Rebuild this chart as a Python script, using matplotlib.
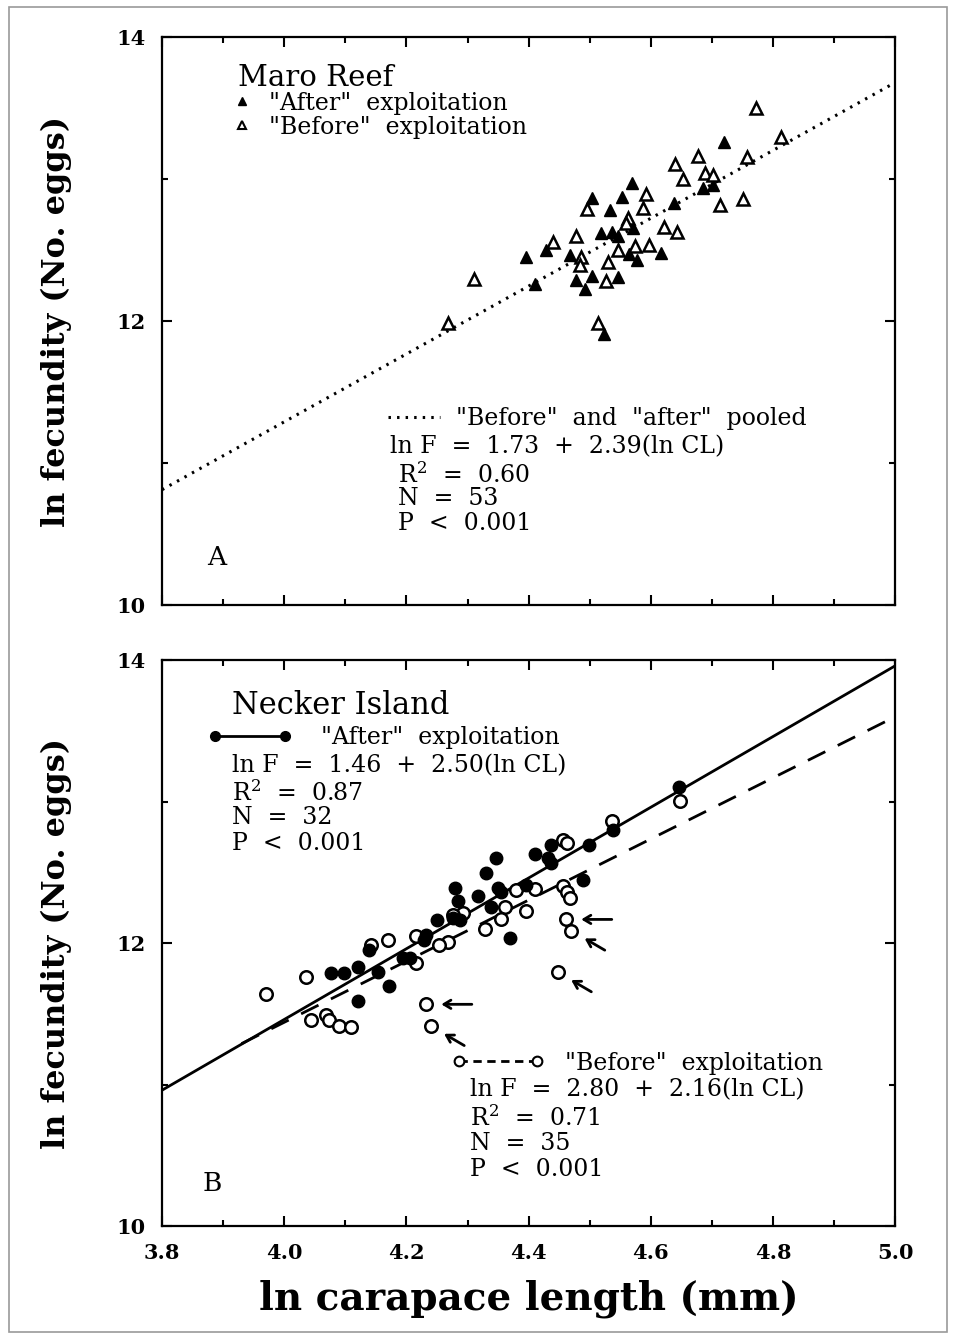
import numpy as np
import matplotlib.pyplot as plt
from matplotlib.lines import Line2D
from matplotlib.patches import Rectangle
from matplotlib.ticker import MultipleLocator

plt.rcParams['font.family'] = ['DejaVu Serif']
plt.rcParams['mathtext.fontset'] = 'dejavuserif'

# --- Panel A: Maro Reef (ln carapace length, ln fecundity)
maro_after_cl = [4.719, 4.569, 4.504, 4.552, 4.533, 4.638, 4.686, 4.702,
                 4.519, 4.536, 4.546, 4.571, 4.395, 4.429, 4.467, 4.564,
                 4.577, 4.616, 4.477, 4.504, 4.492, 4.546, 4.410, 4.523]
maro_after_f = [13.263, 12.970, 12.864, 12.875, 12.782, 12.833, 12.935, 12.958,
                12.618, 12.629, 12.599, 12.653, 12.449, 12.500, 12.465, 12.472,
                12.430, 12.481, 12.289, 12.317, 12.225, 12.312, 12.258, 11.906]
maro_before_cl = [4.268, 4.311, 4.440, 4.478, 4.496, 4.592, 4.587, 4.639,
                  4.677, 4.757, 4.653, 4.689, 4.702, 4.751, 4.713, 4.563,
                  4.560, 4.621, 4.642, 4.574, 4.597, 4.546, 4.486, 4.484,
                  4.530, 4.527, 4.513, 4.772, 4.813]
maro_before_f = [11.984, 12.294, 12.558, 12.599, 12.789, 12.892, 12.794, 13.106,
                 13.162, 13.153, 12.998, 13.044, 13.028, 12.859, 12.818, 12.723,
                 12.688, 12.660, 12.629, 12.528, 12.535, 12.500, 12.449, 12.394,
                 12.418, 12.284, 11.984, 13.500, 13.296]
maro_fit = (1.73, 2.39)

# --- Panel B: Necker Island
necker_after_cl = [4.646, 4.538, 4.498, 4.437, 4.410, 4.432, 4.436, 4.346,
                   4.330, 4.280, 4.489, 4.350, 4.355, 4.396, 4.317, 4.284,
                   4.339, 4.250, 4.276, 4.287, 4.369, 4.232, 4.228, 4.194,
                   4.205, 4.153, 4.120, 4.139, 4.077, 4.098, 4.172, 4.120]
necker_after_f = [13.100, 12.799, 12.696, 12.693, 12.629, 12.599, 12.563, 12.599,
                  12.493, 12.387, 12.445, 12.387, 12.363, 12.410, 12.332, 12.299,
                  12.257, 12.163, 12.175, 12.163, 12.033, 12.057, 12.021, 11.892,
                  11.892, 11.797, 11.833, 11.951, 11.790, 11.790, 11.698, 11.590]
necker_before_cl = [4.456, 4.462, 4.648, 4.536, 4.380, 4.410, 4.457, 4.462,
                    4.467, 4.361, 4.395, 4.355, 4.328, 4.292, 4.268, 4.254,
                    4.461, 4.470, 4.448, 4.036, 4.169, 4.142, 4.216, 4.216,
                    4.232, 4.240, 4.044, 4.068, 4.074, 4.090, 4.109, 3.970,
                    4.276]
necker_before_f = [12.728, 12.707, 13.006, 12.864, 12.375, 12.380, 12.403, 12.363,
                   12.321, 12.253, 12.228, 12.167, 12.097, 12.210, 12.007, 11.986,
                   12.167, 12.087, 11.793, 11.762, 12.021, 11.986, 12.049, 11.861,
                   11.567, 11.413, 11.456, 11.491, 11.456, 11.413, 11.408, 11.640,
                   12.198]
necker_after_fit = (1.46, 2.50)
necker_before_fit = (2.80, 2.16)
before_line_start = 3.93
# points flagged with arrows (index into before lists, arrow kind)
arrowed = [(16, 'h'), (17, 'd'), (18, 'd'), (24, 'h'), (25, 'd')]

x_min, x_max = 3.8, 5.0
y_min, y_max = 10, 14
txt_size = 17

fig = plt.figure(figsize=(9.56, 13.37), dpi=100)
fig.patches.append(Rectangle((0.009, 0.004), 0.982, 0.991, transform=fig.transFigure,
                             fill=False, edgecolor='#9a9a9a', linewidth=1.2))

ax_a = fig.add_axes([0.1695, 0.5475, 0.767, 0.4248])
ax_b = fig.add_axes([0.1695, 0.0830, 0.767, 0.4233])


def style_axes(ax, show_xlabels):
    ax.set_xlim(x_min, x_max)
    ax.set_ylim(y_min, y_max)
    ax.xaxis.set_major_locator(MultipleLocator(0.2))
    ax.xaxis.set_minor_locator(MultipleLocator(0.1))
    ax.yaxis.set_major_locator(MultipleLocator(2))
    ax.yaxis.set_minor_locator(MultipleLocator(1))
    ax.tick_params(which='both', direction='in', top=True, right=True, width=1.5)
    ax.tick_params(which='major', length=7)
    ax.tick_params(which='minor', length=4)
    ax.tick_params(axis='y', labelsize=15, pad=12)
    ax.tick_params(axis='x', labelsize=15, pad=12, labelbottom=show_xlabels)
    for lab in ax.get_xticklabels() + ax.get_yticklabels():
        lab.set_fontweight('bold')
    for sp in ax.spines.values():
        sp.set_linewidth(1.6)
    ax.set_ylabel('ln fecundity (No. eggs)', fontsize=23, fontweight='bold', labelpad=32)


style_axes(ax_a, False)
style_axes(ax_b, True)
ax_b.set_xticks(np.arange(3.8, 5.01, 0.2))
ax_b.set_xticklabels([f'{v:.1f}' for v in np.arange(3.8, 5.01, 0.2)], fontweight='bold')
ax_b.set_xlabel('ln carapace length (mm)', fontsize=28, fontweight='bold', labelpad=12)

# ---------- Panel A
xs = np.array([x_min, x_max])
ax_a.plot(xs, maro_fit[0] + maro_fit[1] * xs, color='black', lw=2.2,
          linestyle=(0, (0.8, 2.0)))
ax_a.plot(maro_after_cl, maro_after_f, linestyle='none', marker='^', ms=8,
          mfc='black', mec='black')
ax_a.plot(maro_before_cl, maro_before_f, linestyle='none', marker='^', ms=8,
          mfc='white', mec='black', mew=1.8)

ax_a.text(0.104, 0.928, 'Maro Reef', transform=ax_a.transAxes, fontsize=21, va='center')
leg1 = ax_a.legend([Line2D([], [], ls='none', marker='^', ms=6, mfc='black', mec='black'),
                    Line2D([], [], ls='none', marker='^', ms=6, mfc='white', mec='black', mew=1.5)],
                   ['"After"  exploitation', '"Before"  exploitation'],
                   loc='upper left', bbox_to_anchor=(0.098, 0.904), frameon=False,
                   fontsize=txt_size, handlelength=0.7, handletextpad=0.8, labelspacing=0.05,
                   borderpad=0, borderaxespad=0)
ax_a.add_artist(leg1)
ax_a.legend([Line2D([], [], color='black', lw=2.2, linestyle=(0, (0.8, 2.0)))],
            ['"Before"  and  "after"  pooled'], loc='upper left',
            bbox_to_anchor=(0.308, 0.348), frameon=False, fontsize=txt_size,
            handlelength=2.2, handletextpad=0.7, borderpad=0, borderaxespad=0)
for txt, y in [('ln F  =  1.73  +  2.39(ln CL)', 0.278), ('R$^{2}$  =  0.60', 0.229),
               ('N  =  53', 0.187), ('P  <  0.001', 0.143)]:
    x = 0.311 if txt.startswith('ln') else 0.322
    ax_a.text(x, y, txt, transform=ax_a.transAxes, fontsize=txt_size, va='center')
ax_a.text(0.062, 0.083, 'A', transform=ax_a.transAxes, fontsize=19, va='center')

# ---------- Panel B
ax_b.plot(xs, necker_after_fit[0] + necker_after_fit[1] * xs, color='black', lw=2)
xb = np.array([before_line_start, x_max])
ax_b.plot(xb, necker_before_fit[0] + necker_before_fit[1] * xb, color='black', lw=2,
          linestyle=(0, (7, 5)))
ax_b.plot(necker_before_cl, necker_before_f, linestyle='none', marker='o', ms=9,
          mfc='white', mec='black', mew=1.8)
ax_b.plot(necker_after_cl, necker_after_f, linestyle='none', marker='o', ms=9,
          mfc='black', mec='black')

for idx, kind in arrowed:
    off = (33, 0) if kind == 'h' else (24, -14)
    ax_b.annotate('', xy=(necker_before_cl[idx], necker_before_f[idx]), xytext=off,
                  textcoords='offset points',
                  arrowprops=dict(arrowstyle='->,head_length=0.5,head_width=0.3',
                                  lw=2, color='black', shrinkA=0, shrinkB=11))

ax_b.text(0.0955, 0.919, 'Necker Island', transform=ax_b.transAxes, fontsize=22, va='center')
leg2 = ax_b.legend([Line2D([], [], color='black', lw=2, marker='o', ms=7, mfc='black')],
                   ['"After"  exploitation'], loc='upper left', numpoints=2,
                   bbox_to_anchor=(0.062, 0.883), frameon=False, fontsize=txt_size,
                   handlelength=3.6, handletextpad=1.2, borderpad=0, borderaxespad=0)
ax_b.add_artist(leg2)
for txt, y in [('ln F  =  1.46  +  2.50(ln CL)', 0.8127), ('R$^{2}$  =  0.87', 0.765),
               ('N  =  32', 0.721), ('P  <  0.001', 0.6767)]:
    ax_b.text(0.0955, y, txt, transform=ax_b.transAxes, fontsize=txt_size, va='center')

ax_b.legend([Line2D([], [], color='black', lw=2, linestyle=(0, (3, 2)), marker='o', ms=7,
                    mfc='white', mec='black', mew=1.5)],
            ['"Before"  exploitation'], loc='upper left', numpoints=2,
            bbox_to_anchor=(0.395, 0.308), frameon=False, fontsize=txt_size,
            handlelength=3.9, handletextpad=0.9, borderpad=0, borderaxespad=0)
for txt, y in [('ln F  =  2.80  +  2.16(ln CL)', 0.240), ('R$^{2}$  =  0.71', 0.191),
               ('N  =  35', 0.1466), ('P  <  0.001', 0.1007)]:
    ax_b.text(0.42, y, txt, transform=ax_b.transAxes, fontsize=txt_size, va='center')
ax_b.text(0.0546, 0.076, 'B', transform=ax_b.transAxes, fontsize=19, va='center')

fig.savefig('out.png', dpi=100)
